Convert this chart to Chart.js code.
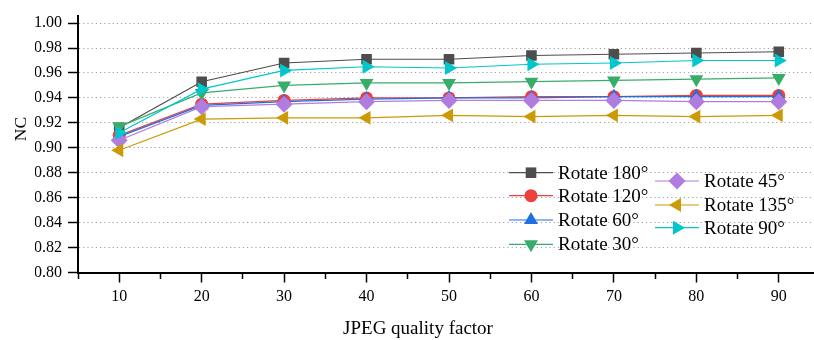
<!DOCTYPE html>
<html>
<head>
<meta charset="utf-8">
<title>NC vs JPEG quality factor</title>
<script src="https://cdn.jsdelivr.net/npm/chart.js@4/dist/chart.umd.min.js"></script>
<style>
  html, body { margin: 0; padding: 0; background: #fff; overflow: hidden; }
  #wrap { width: 830px; height: 340px; }
</style>
</head>
<body>
<div id="wrap"><canvas id="nc-chart"></canvas></div>
<script>
// JPEG quality factors on the x axis
const qualities = [10, 20, 30, 40, 50, 60, 70, 80, 90];
const xMajorTicks = [10, 20, 30, 40, 50, 60, 70, 80, 90];
const xMinorTicks = [5, 15, 25, 35, 45, 55, 65, 75, 85, 95];
const yTicks = [0.80, 0.82, 0.84, 0.86, 0.88, 0.90, 0.92, 0.94, 0.96, 0.98, 1.00];

// NC per rotation angle
const rot180 = [0.916, 0.953, 0.968, 0.971, 0.971, 0.974, 0.975, 0.976, 0.977];
const rot120 = [0.910, 0.935, 0.938, 0.940, 0.940, 0.941, 0.941, 0.942, 0.942];
const rot60  = [0.909, 0.934, 0.937, 0.939, 0.940, 0.940, 0.941, 0.941, 0.941];
const rot30  = [0.917, 0.944, 0.950, 0.952, 0.952, 0.953, 0.954, 0.955, 0.956];
const rot45  = [0.906, 0.933, 0.935, 0.937, 0.938, 0.938, 0.938, 0.937, 0.937];
const rot135 = [0.898, 0.923, 0.924, 0.924, 0.926, 0.925, 0.926, 0.925, 0.926];
const rot90  = [0.912, 0.947, 0.962, 0.965, 0.964, 0.967, 0.968, 0.970, 0.970];

const labels = ["Rotate 180°", "Rotate 120°", "Rotate 60°", "Rotate 30°", "Rotate 45°", "Rotate 135°", "Rotate 90°"];
const series = [rot180, rot120, rot60, rot30, rot45, rot135, rot90];

const FONT = '"Liberation Serif", "Times New Roman", serif';

const styles = [
  { color: "#4d4d4d", point: "rect",     rotation: 0,   radius: 7.5 },
  { color: "#ee3f3f", point: "circle",   rotation: 0,   radius: 6.5 },
  { color: "#1f6fdf", point: "triangle", rotation: 0,   radius: 8 },
  { color: "#38ad6b", point: "triangle", rotation: 180, radius: 8 },
  { color: "#b07ce0", point: "rectRot",  rotation: 0,   radius: 8.5 },
  { color: "#cc9a06", point: "triangle", rotation: 270, radius: 8 },
  { color: "#00c7cc", point: "triangle", rotation: 90,  radius: 8 }
];

const datasets = series.map((vals, i) => ({
  label: labels[i],
  data: vals.map((v, k) => ({ x: qualities[k], y: v })),
  borderColor: styles[i].color,
  backgroundColor: styles[i].color,
  borderWidth: 1.2,
  tension: 0,
  pointStyle: styles[i].point,
  pointRotation: styles[i].rotation,
  pointRadius: styles[i].radius,
  pointBorderWidth: 0,
  pointBackgroundColor: styles[i].color,
  order: series.length - 1 - i
}));

// legend is laid out in two columns inside the plot area
const legendSlots = [
  { x: 531, y: 172.7 }, { x: 531, y: 195.7 }, { x: 531, y: 220 }, { x: 531, y: 244.3 },
  { x: 677, y: 181 },   { x: 677, y: 205 },   { x: 677, y: 227.7 }
];

const insideLegend = {
  id: "insideLegend",
  afterDraw(chart) {
    const ctx = chart.ctx;
    ctx.save();
    chart.data.datasets.forEach((ds, i) => {
      const s = legendSlots[i];
      ctx.strokeStyle = ds.borderColor;
      ctx.lineWidth = 1.2;
      ctx.beginPath();
      ctx.moveTo(s.x - 22, s.y);
      ctx.lineTo(s.x + 22, s.y);
      ctx.stroke();
      ctx.fillStyle = ds.pointBackgroundColor;
      Chart.helpers.drawPoint(ctx, {
        pointStyle: ds.pointStyle,
        rotation: ds.pointRotation,
        radius: ds.pointRadius,
        borderWidth: 0
      }, s.x, s.y);
      ctx.fillStyle = "#000";
      ctx.font = "19px " + FONT;
      ctx.textAlign = "left";
      ctx.textBaseline = "middle";
      ctx.fillText(ds.label, s.x + 27, s.y + 1);
    });

    // axis titles
    ctx.fillStyle = "#000";
    ctx.font = "19px " + FONT;
    ctx.textAlign = "center";
    ctx.textBaseline = "alphabetic";
    ctx.fillText("JPEG quality factor", 418, 334);

    ctx.translate(25.5, 129);
    ctx.rotate(-Math.PI / 2);
    ctx.font = "17.5px " + FONT;
    ctx.fillText("NC", 0, 0);
    ctx.restore();
  }
};

new Chart(document.getElementById("nc-chart"), {
  type: "line",
  data: { datasets },
  options: {
    responsive: true,
    maintainAspectRatio: false,
    animation: false,
    layout: { padding: { left: 35, right: 10, top: 15, bottom: 0 } },
    plugins: {
      legend: { display: false },
      tooltip: { enabled: false }
    },
    scales: {
      x: {
        type: "linear",
        min: 5,
        max: 95,
        afterBuildTicks: axis => {
          axis.ticks = xMinorTicks.concat(xMajorTicks).sort((a, b) => a - b).map(v => ({ value: v }));
        },
        afterFit: axis => { axis.height = 67.5; },
        border: { display: true, color: "#000", width: 2 },
        grid: {
          drawOnChartArea: false,
          tickLength: 10,
          tickColor: "#000",
          tickWidth: 1.5,
          tickBorderDash: c => (c.tick && xMajorTicks.includes(c.tick.value)) ? [] : [5, 30]
        },
        ticks: {
          autoSkip: false,
          maxRotation: 0,
          padding: 5,
          color: "#000",
          font: { family: FONT, size: 16 },
          callback: v => xMajorTicks.includes(v) ? String(v) : ""
        }
      },
      y: {
        min: 0.80,
        max: 1.006,
        afterBuildTicks: axis => {
          axis.ticks = yTicks.map(v => ({ value: v }));
        },
        afterFit: axis => { axis.width = 43; },
        border: { display: true, color: "#000", width: 2, dash: [1.2, 3] },
        grid: {
          color: "#a0a0a0",
          lineWidth: 1,
          tickLength: 10,
          tickColor: "#000",
          tickWidth: 1.5,
          tickBorderDash: []
        },
        ticks: {
          padding: 6,
          color: "#000",
          font: { family: FONT, size: 16 },
          callback: v => Number(v).toFixed(2)
        }
      }
    }
  },
  plugins: [insideLegend]
});
</script>
</body>
</html>
